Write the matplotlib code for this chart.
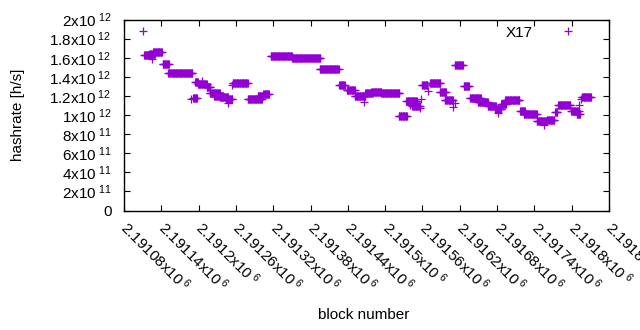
import numpy as np
import matplotlib
matplotlib.use("Agg")
import matplotlib.pyplot as plt

plt.rcParams['font.family'] = ['Liberation Sans', 'DejaVu Sans']
plt.rcParams['mathtext.fontset'] = 'custom'
plt.rcParams['mathtext.rm'] = 'Liberation Sans'
plt.rcParams['mathtext.it'] = 'Liberation Sans'

# runs of blocks sharing the same estimated hashrate (value in 1e12 h/s)
run_start = [2191112, 2191121, 2191127, 2191142, 2191151, 2191191, 2191194, 2191199, 2191213, 2191218,
             2191225, 2191234, 2191244, 2191255, 2191279, 2191295, 2191304, 2191316, 2191350, 2191395,
             2191426, 2191438, 2191451, 2191468, 2191478, 2191494, 2191522, 2191534, 2191543, 2191559,
             2191572, 2191588, 2191596, 2191612, 2191626, 2191636, 2191649, 2191665, 2191677, 2191687,
             2191693, 2191717, 2191723, 2191744, 2191760, 2191773, 2191778, 2191799, 2191808, 2191816]
run_end = [2191124, 2191130, 2191141, 2191152, 2191190, 2191197, 2191199, 2191213, 2191219, 2191234,
           2191239, 2191247, 2191254, 2191279, 2191302, 2191304, 2191313, 2191350, 2191396, 2191425,
           2191435, 2191451, 2191468, 2191480, 2191494, 2191523, 2191535, 2191551, 2191556, 2191568,
           2191589, 2191598, 2191609, 2191625, 2191635, 2191654, 2191665, 2191678, 2191687, 2191694,
           2191716, 2191725, 2191744, 2191759, 2191772, 2191777, 2191798, 2191811, 2191813, 2191831]
run_value = [1.625, 1.64, 1.66, 1.535, 1.44, 1.178, 1.342, 1.328, 1.289, 1.23,
             1.202, 1.188, 1.167, 1.335, 1.167, 1.195, 1.22, 1.619, 1.598, 1.478,
             1.314, 1.262, 1.199, 1.23, 1.24, 1.23, 0.992, 1.142, 1.09, 1.314,
             1.335, 1.237, 1.16, 1.524, 1.304, 1.178, 1.136, 1.09, 1.062, 1.12,
             1.156, 1.041, 1.01, 0.94, 0.95, 1.034, 1.104, 1.037, 1.013, 1.188]

# isolated blocks
single_block = [2191111, 2191125, 2191188, 2191206, 2191247, 2191253, 2191466, 2191540, 2191556,
                2191558, 2191569, 2191609, 2191612, 2191681, 2191755, 2191811, 2191815]
single_value = [1.881, 1.587, 1.17, 1.36, 1.129, 1.31, 1.14, 1.10, 1.07,
                1.167, 1.247, 1.08, 1.13, 1.024, 0.898, 1.108, 1.167]

x_ticks = [2191080 + 60 * i for i in range(14)]
x_tick_labels = ['2.19108', '2.19114', '2.1912', '2.19126', '2.19132', '2.19138', '2.19144',
                 '2.1915', '2.19156', '2.19162', '2.19168', '2.19174', '2.1918', '2.19186']
y_ticks = [0, 2e11, 4e11, 6e11, 8e11, 1e12, 1.2e12, 1.4e12, 1.6e12, 1.8e12, 2e12]
y_tick_labels = ['0', '2x10$^{\\ 11}$', '4x10$^{\\ 11}$', '6x10$^{\\ 11}$', '8x10$^{\\ 11}$',
                 '1x10$^{\\ 12}$', '1.2x10$^{\\ 12}$', '1.4x10$^{\\ 12}$', '1.6x10$^{\\ 12}$',
                 '1.8x10$^{\\ 12}$', '2x10$^{\\ 12}$']

blocks, rates = [], []
for s, e, v in zip(run_start, run_end, run_value):
    b = np.arange(s, e + 1)
    blocks.append(b)
    rates.append(np.full(len(b), v * 1e12))
blocks.append(np.array(single_block))
rates.append(np.array(single_value) * 1e12)
blocks = np.concatenate(blocks)
rates = np.concatenate(rates)

fs = 11

fig = plt.figure(figsize=(6.4, 3.3), dpi=100)
ax = fig.add_axes([124 / 640, 1 - 210.5 / 330, 485 / 640, 191 / 330])

ax.plot(blocks, rates, linestyle='none', marker='+', markersize=5.2, markeredgewidth=0.9,
        color='#9400d3', label='X17')

ax.set_xlim(2191080, 2191860)
ax.set_ylim(0, 2e12)
ax.set_xticks(x_ticks)
ax.set_xticklabels([l + 'x10$^{\\ 6}$' for l in x_tick_labels], rotation=-45,
                   ha='left', va='center', rotation_mode='anchor')
ax.set_yticks(y_ticks)
ax.set_yticklabels(y_tick_labels)
ax.tick_params(direction='in', top=True, right=True, length=4, width=0.8,
               labelsize=fs, colors='black')
ax.tick_params(axis='y', pad=9)
ax.tick_params(axis='x', pad=10)
for sp in ax.spines.values():
    sp.set_linewidth(1.0)

ax.set_xlabel('block number', fontsize=fs)
ax.set_ylabel('hashrate [h/s]', fontsize=fs)
ax.xaxis.set_label_coords(0.495, -0.51)
ax.yaxis.set_label_coords(-0.205, 0.5)

ax.legend(loc='upper right', bbox_to_anchor=(0.959, 1.0), borderaxespad=0, frameon=False,
          markerfirst=False, numpoints=1, handlelength=2.0, handletextpad=1.3, fontsize=fs)

fig.savefig('out.png', dpi=100)
